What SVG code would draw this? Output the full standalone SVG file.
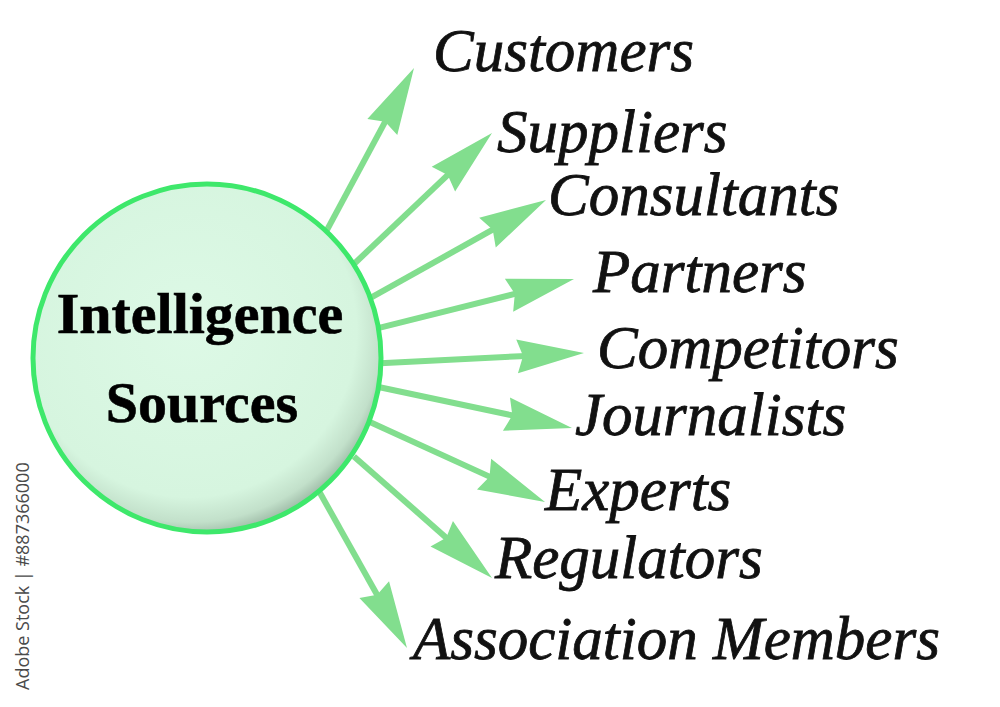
<svg xmlns="http://www.w3.org/2000/svg" width="1000" height="707" viewBox="0 0 1000 707">
<style>
.shaft{stroke:#82de8e;stroke-width:6;fill:none}
.head{fill:#82de8e}
.lbl{font-family:"Liberation Serif","Times New Roman",serif;font-style:italic;font-size:61px;fill:#111;stroke:#111;stroke-width:0.8}
.title{font-family:"Liberation Serif","Times New Roman",serif;font-weight:bold;font-size:58px;fill:#000;stroke:#000;stroke-width:0.6;text-anchor:middle}
.credit{font-family:"Open Sans","Liberation Sans",sans-serif;font-size:18px;fill:#4a4a4a}
</style>
<defs>
<radialGradient id="fillG" cx="0.45" cy="0.42" r="0.6">
<stop offset="0" stop-color="#ddf9e6"/>
<stop offset="0.8" stop-color="#d6f5df"/>
<stop offset="0.92" stop-color="#c2e0ca"/>
<stop offset="1" stop-color="#98b5a1"/>
</radialGradient>
<path id="ah" d="M0,0 L-67,-17 L-61,0 L-67,17 Z"/>
</defs>
<rect width="1000" height="707" fill="#fff"/>
<g id="connectors">
<g transform="translate(414,68) rotate(-61.76)"><line class="shaft" x1="-190" y1="0" x2="-58" y2="0"/><use href="#ah" class="head"/></g>
<g transform="translate(492,133) rotate(-43.5)"><line class="shaft" x1="-195" y1="0" x2="-58" y2="0"/><use href="#ah" class="head"/></g>
<g transform="translate(546,200) rotate(-29.14)"><line class="shaft" x1="-205" y1="0" x2="-58" y2="0"/><use href="#ah" class="head"/></g>
<g transform="translate(574,279) rotate(-14.1)"><line class="shaft" x1="-203" y1="0" x2="-58" y2="0"/><use href="#ah" class="head"/></g>
<g transform="translate(584,353) rotate(-2.9)"><line class="shaft" x1="-204" y1="0" x2="-58" y2="0"/><use href="#ah" class="head"/></g>
<g transform="translate(572,428) rotate(11.95)"><line class="shaft" x1="-199" y1="0" x2="-58" y2="0"/><use href="#ah" class="head"/></g>
<g transform="translate(545,502) rotate(24.57)"><line class="shaft" x1="-198" y1="0" x2="-58" y2="0"/><use href="#ah" class="head"/></g>
<g transform="translate(492,578) rotate(41.37)"><line class="shaft" x1="-184" y1="0" x2="-58" y2="0"/><use href="#ah" class="head"/></g>
<g transform="translate(407,648) rotate(60.7)"><line class="shaft" x1="-184" y1="0" x2="-58" y2="0"/><use href="#ah" class="head"/></g>
</g>
<g id="center">
<circle cx="207" cy="358" r="174" fill="url(#fillG)" stroke="#3ee86b" stroke-width="5"/>
<text class="title" x="200" y="333">Intelligence</text>
<text class="title" x="202" y="422">Sources</text>
</g>
<g id="customers"><text class="lbl" x="433" y="71">Customers</text></g>
<g id="suppliers"><text class="lbl" x="497" y="152">Suppliers</text></g>
<g id="consultants"><text class="lbl" x="548" y="215">Consultants</text></g>
<g id="partners"><text class="lbl" x="593" y="292">Partners</text></g>
<g id="competitors"><text class="lbl" x="597" y="368">Competitors</text></g>
<g id="journalists"><text class="lbl" x="575" y="435">Journalists</text></g>
<g id="experts"><text class="lbl" x="545" y="510">Experts</text></g>
<g id="regulators"><text class="lbl" x="495" y="578">Regulators</text></g>
<g id="association"><text class="lbl" x="413" y="659">Association Members</text></g>
<text class="credit" transform="translate(29,690) rotate(-90)">Adobe Stock | #887366000</text>
</svg>
